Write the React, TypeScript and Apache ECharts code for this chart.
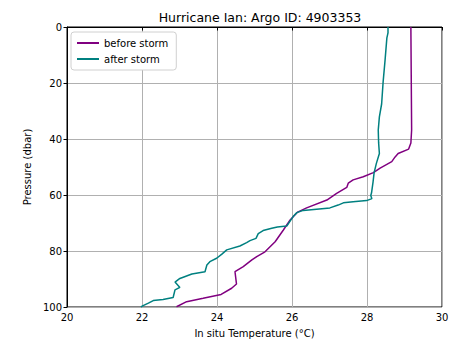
import React, { useEffect, useRef } from "react";
import * as echarts from "echarts";

const beforeTemp = [29.17, 29.19, 29.17, 29.11, 28.83, 28.75, 28.66, 28.35, 28.17, 27.9, 27.63, 27.5, 27.46, 27.19, 26.93, 26.39, 26.15, 25.95, 25.77, 25.55, 25.28, 25.06, 24.93, 24.7, 24.48, 24.52, 24.39, 24.11, 23.63, 23.19, 22.92];
const beforePres = [0, 36.8, 41.4, 43.6, 45.2, 46.4, 48.1, 50.4, 52.0, 53.5, 54.6, 55.8, 57.3, 59.4, 61.8, 64.6, 66.1, 68.9, 72.5, 76.7, 80.3, 82.0, 83.2, 85.6, 87.4, 91.8, 93.3, 95.5, 96.9, 98.1, 99.9];

const afterTemp = [28.56, 28.56, 28.53, 28.48, 28.43, 28.39, 28.33, 28.3, 28.31, 28.33, 28.25, 28.19, 28.16, 28.12, 28.1, 28.13, 27.99, 27.63, 27.37, 27.23, 27.01, 26.3, 26.13, 26.03, 25.86, 25.61, 25.46, 25.23, 25.1, 25.04, 24.88, 24.79, 24.61, 24.26, 24.13, 23.99, 23.81, 23.73, 23.68, 23.33, 23.01, 22.88, 23.01, 22.88, 22.83, 22.56, 22.3, 22.17, 22.03, 21.97];
const afterPres = [0, 2.1, 3.9, 12.1, 19.6, 27.5, 32.1, 36.8, 41.4, 45.2, 48.7, 52.0, 55.5, 59.3, 60.2, 61.3, 62.0, 62.4, 62.8, 63.6, 64.6, 65.5, 66.3, 67.7, 71.1, 71.4, 71.9, 72.7, 73.8, 75.5, 76.3, 77.0, 78.2, 79.6, 81.1, 82.6, 83.8, 85.0, 87.4, 88.2, 89.8, 91.1, 93.0, 93.9, 96.6, 97.3, 97.7, 98.6, 99.5, 100];

const seriesNames = ["before storm", "after storm"];
const titleText = "Hurricane Ian: Argo ID: 4903353";
const xLabel = "In situ Temperature (°C)";
const yLabel = "Pressure (dbar)";

const FONT = "DejaVu Sans";

export default function App() {
  const ref = useRef<HTMLDivElement>(null);
  useEffect(() => {
    document.body.style.margin = "0";
    if (!ref.current) return;
    const chart = echarts.init(ref.current, undefined, { renderer: "svg" });
    const before = beforeTemp.map((t, i) => [t, beforePres[i]]);
    const after = afterTemp.map((t, i) => [t, afterPres[i]]);
    chart.setOption({
      animation: false,
      backgroundColor: "#fff",
      textStyle: { fontFamily: FONT },
      title: {
        text: titleText,
        left: 255,
        textAlign: "center",
        top: 6,
        textStyle: { fontFamily: FONT, fontSize: 12.5, fontWeight: "normal", color: "#000" },
      },
      legend: {
        orient: "vertical",
        left: 71,
        top: 32,
        itemWidth: 22,
        itemHeight: 2,
        itemGap: 6,
        icon: "rect",
        backgroundColor: "#fff",
        borderColor: "#d0d0d0",
        borderWidth: 1,
        borderRadius: 3,
        padding: [6, 8, 6, 6],
        textStyle: { fontFamily: FONT, fontSize: 10, color: "#000" },
        data: seriesNames,
      },
      grid: {
        left: 67,
        right: 12,
        top: 27,
        bottom: 37,
        show: true,
        borderColor: "#000",
        borderWidth: 1,
        backgroundColor: "transparent",
      },
      xAxis: {
        type: "value",
        min: 20,
        max: 30,
        interval: 2,
        name: xLabel,
        nameLocation: "middle",
        nameGap: 21,
        nameTextStyle: { fontFamily: FONT, fontSize: 10, color: "#000" },
        axisLine: { show: true, lineStyle: { color: "#000", width: 1 } },
        axisTick: { show: true, length: 3.5, lineStyle: { color: "#000" } },
        axisLabel: { fontFamily: FONT, fontSize: 10, color: "#000", margin: 5 },
        splitLine: { show: true, lineStyle: { color: "#b0b0b0", width: 1 } },
      },
      yAxis: {
        type: "value",
        inverse: true,
        min: 0,
        max: 100,
        interval: 20,
        name: yLabel,
        nameLocation: "middle",
        nameGap: 32,
        nameRotate: 90,
        nameTextStyle: { fontFamily: FONT, fontSize: 10, color: "#000" },
        axisLine: { show: true, lineStyle: { color: "#000", width: 1 } },
        axisTick: { show: true, length: 3.5, lineStyle: { color: "#000" } },
        axisLabel: { fontFamily: FONT, fontSize: 10, color: "#000", margin: 5 },
        splitLine: { show: true, lineStyle: { color: "#b0b0b0", width: 1 } },
      },
      series: [
        {
          name: seriesNames[0],
          type: "line",
          data: before,
          showSymbol: false,
          symbol: "none",
          color: "#800080",
          lineStyle: { width: 1.5, color: "#800080" },
          z: 3,
        },
        {
          name: seriesNames[1],
          type: "line",
          data: after,
          showSymbol: false,
          symbol: "none",
          color: "#008080",
          lineStyle: { width: 1.5, color: "#008080" },
          z: 4,
        },
      ],
    });
    return () => chart.dispose();
  }, []);
  return <div ref={ref} style={{ width: 454, height: 344 }} />;
}
